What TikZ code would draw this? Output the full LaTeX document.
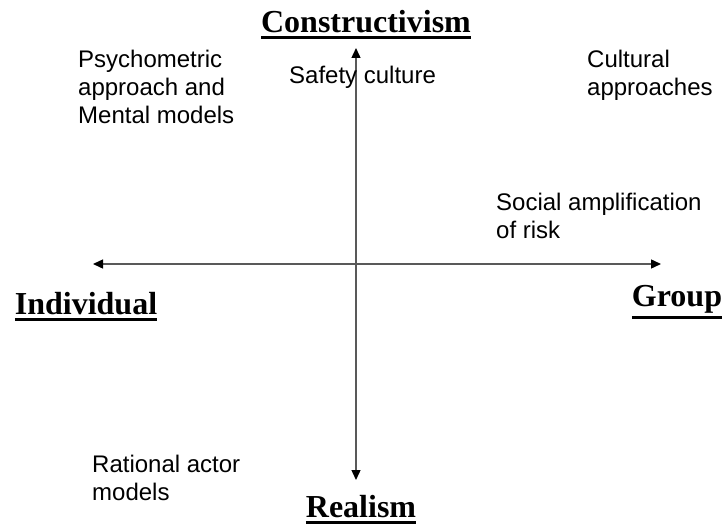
\documentclass[tikz,border=0pt]{standalone}
\usepackage{fontspec}
\setmainfont{Liberation Serif}
\setsansfont{Liberation Sans}
\usepackage{tikz}
\usetikzlibrary{arrows.meta,positioning}
\tikzset{
    pole/.style={
        inner sep=0pt,
        anchor=north,
        font=\fontsize{32}{36}\selectfont\bfseries
    },
    approach/.style={
        inner sep=0pt,
        anchor=north west,
        align=left,
        font=\sffamily\fontsize{24}{28}\selectfont
    },
    axis/.style={
        line width=1.4pt,
        draw=black!65,
        {Triangle[length=10pt,width=9pt,color=black]}-{Triangle[length=10pt,width=9pt,color=black]}
    }
}
\newcommand{\polename}[1]{\setbox0=\hbox{#1}\vtop{\box0\kern3pt\hrule height 3pt}}

\begin{document}
\begin{tikzpicture}[x=1pt,y=-1pt]
        \useasboundingbox (0,0) rectangle (728,527);

        % the two axes
        \coordinate (left) at (93,264);
        \coordinate (right) at (661,264);
        \coordinate (top) at (356,48);
        \coordinate (bottom) at (356,480);
        \draw[axis] (left) -- (right);
        \draw[axis] (bottom) -- (top);

        % ends of the axes
        \node[pole] (constr) at (366,10) {\polename{Constructivism}};
        \node[pole] (real) at (361,495) {\polename{Realism}};
        \node[pole] (indiv) at (86,292) {\polename{Individual}};
        \node[pole] (group) at (677,285) {\polename{Group}};

        % approaches in the quadrants
        \node[approach] (psych) at (78,50) {Psychometric\\approach and\\Mental models};
        \node[approach] (safety) at (289,66) {Safety culture};
        \node[approach] (cult) at (587,50) {Cultural\\approaches};
        \node[approach] (social) at (496,193) {Social amplification\\of risk};
        \node[approach] (ration) at (92,455) {Rational actor\\models};
    \end{tikzpicture}
\end{document}
